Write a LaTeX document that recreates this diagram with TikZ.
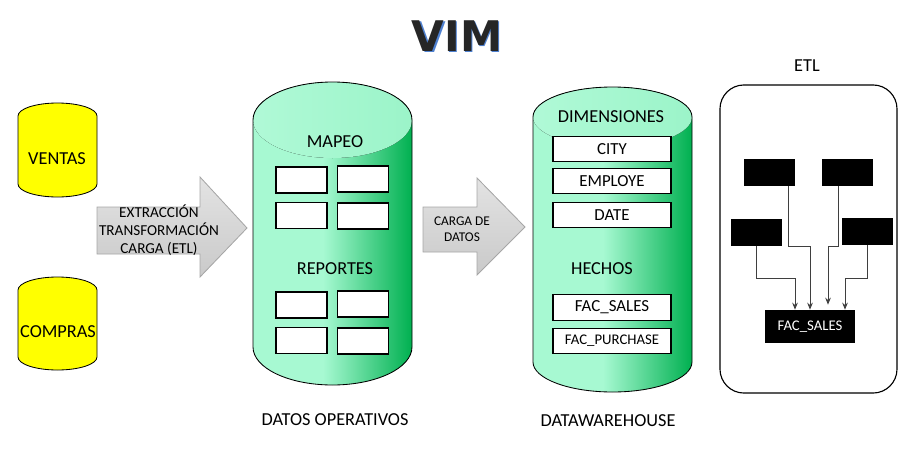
\documentclass[tikz,border=0pt]{standalone}
\usepackage{fontspec}
\setmainfont{Carlito}
\newfontfamily\titlefont{DejaVu Sans}
\usetikzlibrary{arrows.meta,calc}

\definecolor{mint}{HTML}{A7F9D2}
\definecolor{dkgreen}{HTML}{00B050}
\definecolor{drumyellow}{HTML}{FFFF00}
\definecolor{titlegray}{HTML}{262626}
\definecolor{shadowblue}{HTML}{4F81D0}
\definecolor{arrowedge}{HTML}{A6A6A6}
\definecolor{linkgray}{HTML}{3F3F3F}

\pgfdeclarehorizontalshading{cylbody}{100bp}{color(0bp)=(mint); color(25bp)=(mint); color(47bp)=(mint); color(75bp)=(dkgreen); color(100bp)=(dkgreen)}

\tikzset{
  titletext/.style={font=\titlefont\bfseries\fontsize{30}{36}\selectfont, text=titlegray, inner sep=0pt},
  lbl/.style={font=\fontsize{13}{15}\selectfont, inner sep=0pt},
  smalltxt/.style={font=\fontsize{9.5}{11.5}\selectfont, align=center, inner sep=0pt},
  tablebox/.style={draw, fill=white, line width=0.8pt, minimum width=1.275cm, minimum height=0.65cm, inner sep=0pt},
  dimbox/.style={tablebox, minimum width=2.95cm, minimum height=0.63cm, font=\fontsize{12}{14}\selectfont},
  blackbox/.style={fill=black, minimum width=1.275cm, minimum height=0.675cm, inner sep=0pt},
  etlframe/.style={draw, line width=0.8pt, rounded corners=0.6cm, minimum width=4.425cm, minimum height=7.7cm},
  link/.style={draw=linkgray, line width=0.6pt, -{Stealth[length=5pt,width=4pt]}},
  drum/.style={fill=drumyellow, draw=black, line width=0.6pt},
  greendrum/.style={shading=cylbody},
  lid/.style={left color=mint!90!white, right color=mint!93!dkgreen},
  bigarrow/.style={draw=arrowedge, line width=0.6pt, top color=gray!22, bottom color=gray!42}
}

\begin{document}
\begin{tikzpicture}[x=0.025cm, y=-0.025cm]
  \useasboundingbox (0,0) rectangle (910,468);

  % title
  \node[titletext, text=shadowblue] (vimshadow) at (458.5,37.5) {VIM};
  \node[titletext] (vim) at (457,36) {VIM};

  % sources
  \draw[drum] (18,116) -- (18,184) arc[start angle=180, end angle=0, x radius=39.5, y radius=13]
    -- (97,116) arc[start angle=0, end angle=-180, x radius=39.5, y radius=13] -- cycle;
  \draw[drum] (18,290) -- (18,357) arc[start angle=180, end angle=0, x radius=39.5, y radius=13]
    -- (97,290) arc[start angle=0, end angle=-180, x radius=39.5, y radius=13] -- cycle;
  \node[lbl] (ventas) at (57,159) {VENTAS};
  \node[lbl] (compras) at (58,332) {COMPRAS};

  % arrow etl
  \draw[bigarrow] (97,207) -- (200,207) -- (200,177) -- (247,228) -- (200,277) -- (200,254) -- (97,254) -- cycle;
  \node[smalltxt, font=\fontsize{10.8}{12.6}\selectfont] (etltxt) at (159,230) {EXTRACCIÓN\\TRANSFORMACIÓN\\CARGA (ETL)};

  % operational data
  \shade[greendrum] (253,120) -- (253,347) arc[start angle=180, end angle=0, x radius=79.5, y radius=38]
    -- (412,120) arc[start angle=0, end angle=-180, x radius=79.5, y radius=38] -- cycle;
  \fill[lid] (332.5,120) ellipse [x radius=79.5, y radius=38];
  \draw[line width=0.6pt] (253,120) -- (253,347) arc[start angle=180, end angle=0, x radius=79.5, y radius=38]
    -- (412,120) arc[start angle=0, end angle=-180, x radius=79.5, y radius=38] -- cycle;
  \node[lbl] (mapeo) at (335,142) {MAPEO};
  \node[tablebox] (m1) at (301.5,180) {};
  \node[tablebox] (m2) at (363,179) {};
  \node[tablebox] (m3) at (301.5,215.5) {};
  \node[tablebox] (m4) at (363,216) {};
  \node[lbl] (reportes) at (335,269) {REPORTES};
  \node[tablebox] (r1) at (301.5,305) {};
  \node[tablebox] (r2) at (363,304) {};
  \node[tablebox] (r3) at (301.5,340.5) {};
  \node[tablebox] (r4) at (363,341) {};
  \node[lbl] (operativos) at (335,420) {DATOS OPERATIVOS};

  % arrow carga
  \draw[bigarrow] (423,207) -- (477,207) -- (477,178) -- (525,227) -- (477,275) -- (477,252) -- (423,252) -- cycle;
  \node[smalltxt] (cargatxt) at (462,229) {CARGA DE\\DATOS};

  % datawarehouse
  \shade[greendrum] (533,117) -- (533,362) arc[start angle=180, end angle=0, x radius=79.5, y radius=30]
    -- (692,117) arc[start angle=0, end angle=-180, x radius=79.5, y radius=30] -- cycle;
  \fill[lid] (612.5,117) ellipse [x radius=79.5, y radius=30];
  \draw[line width=0.6pt] (533,117) -- (533,362) arc[start angle=180, end angle=0, x radius=79.5, y radius=30]
    -- (692,117) arc[start angle=0, end angle=-180, x radius=79.5, y radius=30] -- cycle;
  \node[lbl] (dimensiones) at (611,117) {DIMENSIONES};
  \node[dimbox] (city) at (612,149) {CITY};
  \node[dimbox] (employe) at (612,181) {EMPLOYE};
  \node[dimbox] (date) at (612,215) {DATE};
  \node[lbl] (hechos) at (602,269) {HECHOS};
  \node[dimbox] (facsales) at (612,307.5) {FAC\_SALES};
  \node[dimbox, font=\fontsize{10.5}{12}\selectfont] (facpurchase) at (612,341) {FAC\_PURCHASE};
  \node[lbl] (dw) at (608,421) {DATAWAREHOUSE};

  % etl
  \node[lbl] (etllbl) at (807,66) {ETL};
  \node[etlframe] (etlbox) at (808.5,239) {};
  \node[blackbox] (b1) at (769.5,172.5) {};
  \node[blackbox] (b2) at (847.5,172.5) {};
  \node[blackbox] (b3) at (756.5,232.5) {};
  \node[blackbox] (b4) at (867.5,231) {};
  \node[blackbox, minimum width=2.25cm, minimum height=0.825cm, text=white, font=\fontsize{10.5}{12}\selectfont] (fac) at (810,326.5) {FAC\_SALES};
  \draw[link] ($(b1.south)+(18.5,0)$) -- ++(0,60) -| (fac.north);
  \draw[link] ($(b2.south)+(-9.5,0)$) -- ++(0,60) -| ($(fac.north)+(18,-5)$);
  \draw[link] (b3.south) -- ++(0,32) -| ($(fac.north)+(-15,0)$);
  \draw[link] (b4.south) -- ++(0,33.5) -| ($(fac.north)+(35,0)$);
\end{tikzpicture}
\end{document}
